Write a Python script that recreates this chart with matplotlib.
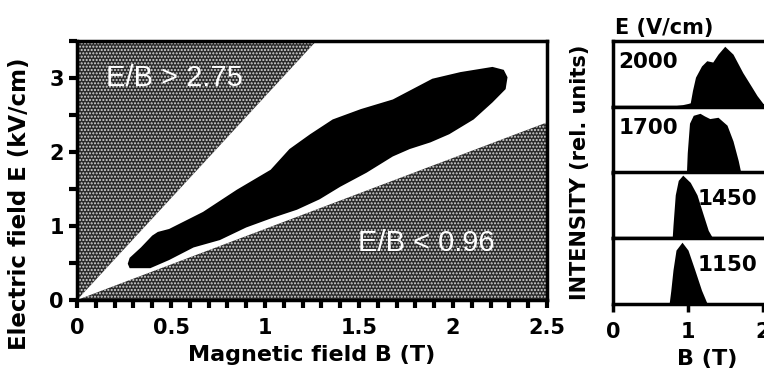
import numpy as np
import matplotlib
matplotlib.use("Agg")
import matplotlib.pyplot as plt
from matplotlib.ticker import MultipleLocator

plt.rcParams['font.family'] = ['DejaVu Sans']
plt.rcParams['font.weight'] = 'bold'
plt.rcParams['axes.labelweight'] = 'bold'
plt.rcParams['axes.titleweight'] = 'bold'
plt.rcParams['hatch.linewidth'] = 1.0

# E/B limits of the shaded regions
ratio_high = 2.75
ratio_low = 0.96

# outline of the black (measured) region, B in T, E in kV/cm
blob_B = [0.28, 0.34, 0.40, 0.43, 0.49, 0.67, 0.85, 1.03, 1.13, 1.24, 1.36, 1.51,
          1.68, 1.89, 2.04, 2.21, 2.27, 2.29, 2.28, 2.21, 2.11, 1.98, 1.88, 1.77,
          1.68, 1.54, 1.40, 1.29, 1.17, 1.04, 0.90, 0.76, 0.62, 0.49, 0.39, 0.28, 0.27]
blob_E = [0.57, 0.71, 0.87, 0.92, 0.96, 1.19, 1.49, 1.76, 2.04, 2.24, 2.44, 2.58,
          2.71, 2.99, 3.08, 3.15, 3.11, 3.01, 2.85, 2.67, 2.44, 2.24, 2.13, 2.04,
          1.94, 1.72, 1.53, 1.36, 1.22, 1.11, 0.98, 0.81, 0.71, 0.54, 0.43, 0.43, 0.49]

# intensity spectra vs B for each electric field (V/cm)
fields = ['2000', '1700', '1450', '1150']
spec_B = [
    [0.85, 0.92, 1.00, 1.03, 1.06, 1.10, 1.18, 1.25, 1.33, 1.40, 1.49, 1.60, 1.73, 1.85, 1.92, 2.00, 2.10],
    [0.98, 0.99, 1.02, 1.07, 1.16, 1.22, 1.29, 1.40, 1.52, 1.60, 1.67, 1.70],
    [0.79, 0.80, 0.83, 0.87, 0.93, 1.03, 1.12, 1.20, 1.27, 1.32],
    [0.75, 0.77, 0.80, 0.84, 0.92, 1.00, 1.09, 1.18, 1.25],
]
spec_I = [
    [0.02, 0.03, 0.05, 0.06, 0.25, 0.45, 0.62, 0.70, 0.68, 0.80, 0.92, 0.80, 0.52, 0.30, 0.17, 0.05, 0.02],
    [0.02, 0.30, 0.75, 0.87, 0.90, 0.86, 0.82, 0.84, 0.72, 0.48, 0.18, 0.02],
    [0.02, 0.20, 0.66, 0.88, 0.96, 0.85, 0.66, 0.37, 0.12, 0.02],
    [0.02, 0.20, 0.52, 0.82, 0.94, 0.82, 0.52, 0.21, 0.02],
]
label_left = [True, True, False, False]

fig = plt.figure(figsize=(7.64, 3.76), dpi=100)
W, H = 764, 376

# ---- left panel ----
ax = fig.add_axes([77 / W, 76 / H, 470 / W, 259 / H])
xs = np.array([0, 2.5])
ax.fill_between(xs, ratio_high * xs, 10, facecolor='#2a2a2a', edgecolor='#d8d8d8',
                hatch='.....', linewidth=0)
ax.fill_between(xs, -1, ratio_low * xs, facecolor='#2a2a2a', edgecolor='#d8d8d8',
                hatch='.....', linewidth=0)
ax.fill(blob_B, blob_E, color='black', linewidth=0)
ax.set_xlim(0, 2.5)
ax.set_ylim(0, 3.5)
ax.text(0.52, 3.0, 'E/B > 2.75', color='white', fontsize=21, ha='center', va='center',
        family='Liberation Sans', fontweight='normal')
ax.text(1.86, 0.77, 'E/B < 0.96', color='white', fontsize=21, ha='center', va='center',
        family='Liberation Sans', fontweight='normal')

for s in ax.spines.values():
    s.set_linewidth(2.5)
ax.set_xticks([0, 0.5, 1, 1.5, 2, 2.5])
ax.set_xticklabels(['0', '0.5', '1', '1.5', '2', '2.5'])
ax.xaxis.set_minor_locator(MultipleLocator(0.1))
ax.yaxis.set_major_locator(MultipleLocator(1))
ax.yaxis.set_minor_locator(MultipleLocator(0.5))
ax.tick_params(which='both', direction='out', length=6, width=3, labelsize=15)
ax.tick_params(axis='x', pad=7)
ax.set_xlabel('Magnetic field B (T)', fontsize=16, labelpad=5)
ax.set_ylabel('Electric field E (kV/cm)', fontsize=16.5)
ax.yaxis.set_label_coords(-0.098, 0.37)

# ---- right panels ----
ph = 65.75
for i, f in enumerate(fields):
    bottom = (H - 41 - ph * (i + 1)) / H
    a = fig.add_axes([613 / W, bottom, 187.5 / W, ph / H])
    a.fill_between(spec_B[i], 0, spec_I[i], color='black', linewidth=0)
    a.set_xlim(0, 2.5)
    a.set_ylim(0, 1.0)
    a.set_yticks([])
    for s in a.spines.values():
        s.set_linewidth(2.5)
    if label_left[i]:
        a.text(0.03, 0.68, f, transform=a.transAxes, fontsize=15.5,
               ha='left', va='center')
    else:
        a.text(0.45, 0.6, f, transform=a.transAxes, fontsize=15.5,
               ha='left', va='center')
    if i < len(fields) - 1:
        a.set_xticks([])
    else:
        a.set_xticks([0, 1, 2])
        a.tick_params(direction='out', length=6, width=2.5, labelsize=15, pad=7)
        a.set_xlabel('B (T)', fontsize=16, labelpad=5)
    if i == 0:
        a.set_title('E (V/cm)', fontsize=15, loc='left', pad=5, x=0.01)

fig.text(580 / W, (H - 172) / H, 'INTENSITY (rel. units)', rotation=90,
         fontsize=15, ha='center', va='center')

fig.savefig('out.png', dpi=100)
